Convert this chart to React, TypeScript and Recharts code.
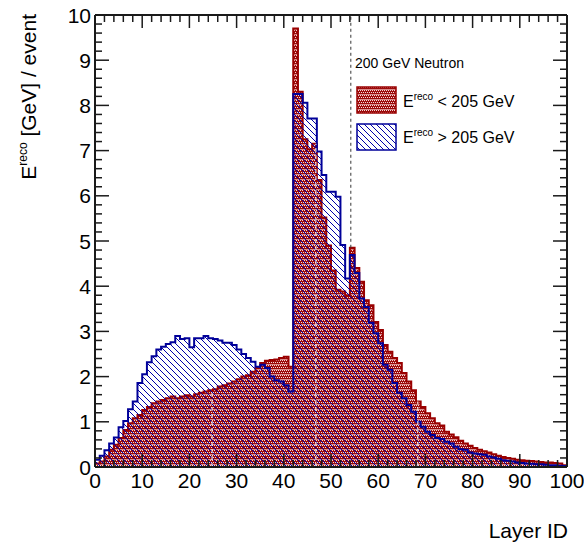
import React from "react";

import { Area, ComposedChart, Customized, ReferenceLine, XAxis, YAxis } from "recharts";


// energy per layer, one value per layer bin (0..99)
const lowEnergy = [
  0.08, 0.12, 0.23, 0.38, 0.49, 0.64, 0.82, 0.97, 1.08, 1.15,
  1.26, 1.33, 1.41, 1.45, 1.48, 1.52, 1.56, 1.52, 1.56, 1.59,
  1.56, 1.61, 1.64, 1.67, 1.70, 1.72, 1.78, 1.81, 1.85, 1.89,
  1.94, 2.00, 2.03, 2.11, 2.19, 2.30, 2.35, 2.37, 2.38, 2.41,
  2.44, 2.22, 9.70, 8.30, 7.25, 7.03, 7.15, 6.35, 5.52, 4.90,
  4.35, 3.92, 3.88, 3.80, 4.85, 4.40, 4.10, 3.69, 3.58, 3.21,
  3.03, 2.70, 2.55, 2.41, 2.30, 2.08, 1.89, 1.70, 1.45, 1.33,
  1.19, 1.08, 0.97, 0.92, 0.78, 0.72, 0.66, 0.58, 0.52, 0.47,
  0.42, 0.38, 0.35, 0.32, 0.28, 0.25, 0.22, 0.20, 0.18, 0.16,
  0.15, 0.14, 0.13, 0.12, 0.11, 0.10, 0.10, 0.09, 0.08, 0.04
];

const highEnergy = [
  0.16, 0.25, 0.37, 0.52, 0.65, 0.88, 1.02, 1.28, 1.45, 1.86,
  2.05, 2.32, 2.45, 2.60, 2.66, 2.72, 2.76, 2.90, 2.83, 2.85,
  2.65, 2.85, 2.85, 2.90, 2.85, 2.83, 2.80, 2.75, 2.75, 2.70,
  2.60, 2.50, 2.41, 2.33, 2.22, 2.26, 2.19, 2.00, 1.92, 1.89,
  1.81, 1.67, 8.25, 8.25, 8.06, 7.71, 7.71, 6.98, 6.46, 6.09,
  6.09, 5.98, 4.91, 4.17, 4.69, 4.29, 3.73, 3.54, 3.19, 2.96,
  2.74, 2.26, 2.15, 1.86, 1.64, 1.52, 1.37, 1.22, 1.00, 0.89,
  0.78, 0.71, 0.64, 0.62, 0.56, 0.52, 0.45, 0.39, 0.38, 0.32,
  0.30, 0.28, 0.27, 0.23, 0.21, 0.18, 0.15, 0.14, 0.12, 0.10,
  0.09, 0.08, 0.07, 0.06, 0.06, 0.05, 0.04, 0.04, 0.03, 0.02
];

const xLabels = [0, 10, 20, 30, 40, 50, 60, 70, 80, 90, 100];
const yLabels = [0, 1, 2, 3, 4, 5, 6, 7, 8, 9, 10];

// energy cut position (layer) and the white seams left in the filled area
const cutLayer = 54.2;
const seamLayers = [24.8, 46.8, 68.4];

// step histogram: last point repeats the final bin to close the step
const data = lowEnergy.map((v, i) => ({ layer: i, low: v, high: highEnergy[i] }));
data.push({ layer: 100, low: lowEnergy[99], high: highEnergy[99] });

// minor ticks every 2 layers / 0.2 GeV
const xTicks = Array.from({ length: 51 }, (_, i) => i * 2);
const yTicks = Array.from({ length: 51 }, (_, i) => Math.round(i * 2) / 10);

const W = 584;
const H = 546;
const PLOT = { left: 95, top: 15, right: 567, bottom: 467 };
const X_DOMAIN = [0, 100];
const Y_DOMAIN = [0, 10];

// tick lengths in pixels, turned into axis units
const xUnitsPerPx = (X_DOMAIN[1] - X_DOMAIN[0]) / (PLOT.right - PLOT.left);
const yUnitsPerPx = (Y_DOMAIN[1] - Y_DOMAIN[0]) / (PLOT.bottom - PLOT.top);

const FONT = "'Liberation Sans', Arial, Helvetica, sans-serif";
const RED = "#990000";
const BLUE = "#000099";
const FRAME = "#1a1a1a";

const isMajor = (v: number, step: number) => Math.abs(v / step - Math.round(v / step)) < 1e-6;

const XLabel = (props: any) => {
  const { x, y, payload } = props;
  return (
    <text x={x} y={y + 21} textAnchor="middle" fontSize={21} fontFamily={FONT} fill="#000">
      {payload.value}
    </text>
  );
};

const YLabel = (props: any) => {
  const { x, y, payload } = props;
  return (
    <text x={x - 4} y={y} dy="0.36em" textAnchor="end" fontSize={21} fontFamily={FONT} fill="#000">
      {payload.value}
    </text>
  );
};

// axis titles and the legend box
const Decorations = () => (
  <g fontFamily={FONT} fill="#000">
    <text transform="rotate(-90)" x={-14} y={36} textAnchor="end" fontSize={21}>
      E<tspan dy={-9} fontSize={12}>reco</tspan>
      <tspan dy={9}> [GeV] / event</tspan>
    </text>
    <text x={568} y={538} textAnchor="end" fontSize={21}>Layer ID</text>

    <text x={355} y={68} fontSize={14}>200 GeV Neutron</text>
    <rect x={357} y={87} width={39} height={26} fill="url(#lowFill)" stroke={RED} strokeWidth={1.5} />
    <text x={403} y={107} fontSize={16}>
      E<tspan dy={-7} fontSize={10}>reco</tspan>
      <tspan dy={7}> &lt; 205 GeV</tspan>
    </text>
    <rect x={357} y={124} width={39} height={26} fill="url(#highFill)" stroke={BLUE} strokeWidth={1.5} />
    <text x={403} y={143} fontSize={16}>
      E<tspan dy={-7} fontSize={10}>reco</tspan>
      <tspan dy={7}> &gt; 205 GeV</tspan>
    </text>
  </g>
);

// frame segments (box + inward ticks on all four sides) in axis units
const frameSegments = () => {
  const [x0, x1] = X_DOMAIN;
  const [y0, y1] = Y_DOMAIN;
  const segs: Array<{ key: string; seg: Array<{ x: number; y: number }>; w: number }> = [
    { key: "b", seg: [{ x: x0, y: y0 }, { x: x1, y: y0 }], w: 2 },
    { key: "t", seg: [{ x: x0, y: y1 }, { x: x1, y: y1 }], w: 2 },
    { key: "l", seg: [{ x: x0, y: y0 }, { x: x0, y: y1 }], w: 2 },
    { key: "r", seg: [{ x: x1, y: y0 }, { x: x1, y: y1 }], w: 2 }
  ];
  xTicks.forEach((t) => {
    const len = (isMajor(t, 10) ? 13 : 7) * yUnitsPerPx;
    segs.push({ key: `xb${t}`, seg: [{ x: t, y: y0 }, { x: t, y: y0 + len }], w: 1.5 });
    segs.push({ key: `xt${t}`, seg: [{ x: t, y: y1 }, { x: t, y: y1 - len }], w: 1.5 });
  });
  yTicks.forEach((t) => {
    const len = (isMajor(t, 1) ? 14 : 7) * xUnitsPerPx;
    segs.push({ key: `yl${t}`, seg: [{ x: x0, y: t }, { x: x0 + len, y: t }], w: 1.5 });
    segs.push({ key: `yr${t}`, seg: [{ x: x1, y: t }, { x: x1 - len, y: t }], w: 1.5 });
  });
  return segs;
};

const App: React.FC = () => {
  const cutBin = Math.floor(cutLayer);
  return (
    <div style={{ position: "absolute", left: 0, top: 0 }}>
      <ComposedChart
        width={W}
        height={H}
        data={data}
        margin={{ top: PLOT.top, right: W - PLOT.right, bottom: 0, left: 0 }}
      >
        <defs>
          <pattern id="lowFill" width={2} height={5} patternUnits="userSpaceOnUse">
            <rect width={2} height={5} fill="#9c0a0a" />
            <rect x={0} y={0} width={1} height={1} fill="#f4d8d8" />
            <rect x={1} y={2} width={1} height={1} fill="#f4d8d8" />
            <rect x={0} y={4} width={2} height={1} fill="#d88c8c" />
          </pattern>
          <pattern id="highFill" width={6} height={6} patternUnits="userSpaceOnUse">
            <path d="M0,0 L6,6 M-1,5 L1,7 M5,-1 L7,1" stroke="#0000a8" strokeWidth={1} />
          </pattern>
        </defs>

        <XAxis
          dataKey="layer"
          type="number"
          domain={X_DOMAIN}
          ticks={xLabels}
          interval={0}
          height={H - PLOT.bottom}
          tickSize={0}
          tickMargin={0}
          tickLine={false}
          axisLine={false}
          tick={<XLabel />}
        />
        <YAxis
          type="number"
          domain={Y_DOMAIN}
          ticks={yLabels}
          interval={0}
          width={PLOT.left}
          tickSize={0}
          tickMargin={0}
          tickLine={false}
          axisLine={false}
          tick={<YLabel />}
        />

        <Area
          type="stepAfter"
          dataKey="low"
          stroke={RED}
          strokeWidth={2}
          fill="url(#lowFill)"
          fillOpacity={1}
          dot={false}
          activeDot={false}
          isAnimationActive={false}
        />
        <Area
          type="stepAfter"
          dataKey="high"
          stroke={BLUE}
          strokeWidth={2}
          fill="url(#highFill)"
          fillOpacity={1}
          dot={false}
          activeDot={false}
          isAnimationActive={false}
        />

        <ReferenceLine
          segment={[{ x: cutLayer, y: lowEnergy[cutBin] }, { x: cutLayer, y: Y_DOMAIN[1] }]}
          stroke="#333"
          strokeDasharray="3 3"
        />
        {seamLayers.map((l) => (
          <ReferenceLine
            key={l}
            segment={[{ x: l, y: 0 }, { x: l, y: lowEnergy[Math.floor(l)] }]}
            stroke="#ffffff"
            strokeDasharray="4 3"
          />
        ))}

        {frameSegments().map((s) => (
          <ReferenceLine key={s.key} segment={s.seg} stroke={FRAME} strokeWidth={s.w} ifOverflow="visible" />
        ))}

        <Customized component={<Decorations />} />
      </ComposedChart>
    </div>
  );
};

export default App;
